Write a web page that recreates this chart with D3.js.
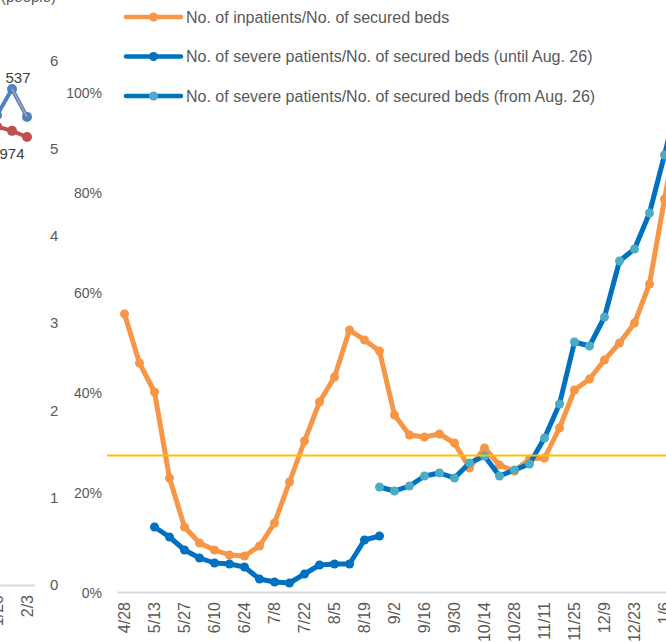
<!DOCTYPE html>
<html>
<head>
<meta charset="utf-8">
<script src="https://cdn.jsdelivr.net/npm/d3@7"></script>
<style>
  body { margin: 0; background: #fff; }
  svg { display: block; font-family: "Liberation Sans", Arial, sans-serif; }
  .axis-label text { fill: #595959; }
</style>
</head>
<body>
<div id="chart"></div>
<script>
// ---- data: right chart (weekly reports) ----
const dates = ["4/28","5/6","5/13","5/20","5/27","6/3","6/10","6/17","6/24","7/1",
    "7/8","7/15","7/22","7/29","8/5","8/12","8/19","8/26","9/2","9/9",
    "9/16","9/23","9/30","10/7","10/14","10/21","10/28","11/4","11/11","11/18",
    "11/25","12/2","12/9","12/16","12/23","12/30","1/6","1/13"];

// No. of inpatients / No. of secured beds (%)
const inpatientPct = [55.8, 46, 40.2, 23, 13.2, 10, 8.6, 7.6, 7.4, 9.4,
    14, 22.2, 30.4, 38.2, 43.2, 52.6, 50.6, 48.4, 35.6, 31.6,
    31.2, 31.8, 30, 25, 29, 25.6, 24.4, 26.8, 27, 33,
    40.6, 42.8, 46.6, 50, 54, 61.8, 78.8, 95];

// severe patients (until Aug. 26), starts at 5/13
const severeUntilStart = 2;
const severeUntilPct = [13.2, 11.2, 8.6, 7, 6, 5.8, 5.2, 2.8, 2.2, 2,
    3.8, 5.6, 5.8, 5.8, 10.6, 11.4];

// severe patients (from Aug. 26), starts at 8/26
const severeFromStart = 17;
const severeFromPct = [21.2, 20.4, 21.4, 23.4, 24, 23, 26, 27.4, 23.4, 24.6,
    25.8, 31, 37.8, 50.2, 49.4, 55.2, 66.4, 68.8, 76, 87.6, 100];

const thresholdPct = 27.5;
const pctTicks = [0, 20, 40, 60, 80, 100];
const countTicks = [0, 1, 2, 3, 4, 5, 6];

// ---- data: left chart (cropped at the edge) ----
const leftDates = ["1/20", "1/27", "2/3"];
const leftBlue = [5.38, 5.68, 5.36];
const leftRed = [5.25, 5.20, 5.13];
const leftGray = [null, 5.68, 5.36];
const leftBlueLabels = [null, "537", null];
const leftRedLabels = [null, "974", null];

const legendItems = [
    {text: "No. of inpatients/No. of secured beds", line: "#F79646", marker: "#F79646"},
    {text: "No. of severe patients/No. of secured beds (until Aug. 26)", line: "#0070C0", marker: "#0070C0"},
    {text: "No. of severe patients/No. of secured beds (from Aug. 26)", line: "#0070C0", marker: "#4BACC6"}
];

// ---- svg ----
const width = 666, height = 642;
const svg = d3.select("#chart").append("svg")
    .attr("width", width)
    .attr("height", height);

// scales
const x = d3.scaleBand().domain(dates).range([117, 117 + 15 * dates.length]);
const xc = d => x(d) + x.bandwidth() / 2;
const yPct = d3.scaleLinear().domain([0, 100]).range([593, 93]);
const yCount = d3.scaleLinear().domain([0, 6]).range([585, 61]);
const xLeft = d3.scaleBand().domain(leftDates).range([-10.5, 34.5]);
const xlc = d => xLeft(d) + xLeft.bandwidth() / 2;

// ---- left chart bits ----
svg.append("text")
    .attr("x", 56)
    .attr("y", 2)
    .attr("text-anchor", "end")
    .style("font-size", "15px")
    .style("fill", "#595959")
    .text("(people)");

// left chart x axis
const leftAxis = svg.append("g")
    .attr("class", "axis-label")
    .attr("transform", "translate(0," + 585 + ")")
    .call(d3.axisBottom(xLeft).tickValues(leftDates.filter((d, i) => i % 2 === 0)).tickSize(0).tickSizeOuter(0));
leftAxis.select(".domain").attr("stroke", "#D9D9D9").attr("stroke-width", 2);
leftAxis.selectAll("text")
    .attr("transform", "rotate(-90)")
    .attr("text-anchor", "end")
    .attr("x", -10)
    .attr("y", 0)
    .attr("dy", "0.35em")
    .style("font-size", "16px");

// left chart lines
const leftLine = yScale => d3.line()
    .defined(d => d.v !== null)
    .x(d => xlc(d.date))
    .y(d => yScale(d.v));

function drawLeftSeries(vals, color, widthPx, withDots){
    const data = leftDates.map((d, i) => ({date: d, v: vals[i]}));
    svg.append("path")
        .datum(data)
        .attr("fill", "none")
        .attr("stroke", color)
        .attr("stroke-width", widthPx)
        .attr("stroke-linejoin", "round")
        .attr("d", leftLine(yCount));
    if(withDots){
        svg.selectAll(null).data(data.filter(d => d.v !== null)).enter().append("circle")
            .attr("cx", d => xlc(d.date))
            .attr("cy", d => yCount(d.v))
            .attr("r", 5)
            .style("fill", color);
    }
}
drawLeftSeries(leftRed, "#C0504D", 4, true);
drawLeftSeries(leftBlue, "#4F81BD", 4, true);
drawLeftSeries(leftGray, "#A6A6A6", 1.5, false);

// data labels on left chart
svg.selectAll(null).data(leftDates.map((d, i) => ({date: d, v: leftBlue[i], t: leftBlueLabels[i]})).filter(d => d.t))
    .enter().append("text")
    .attr("x", d => xlc(d.date) + 6)
    .attr("y", d => yCount(d.v) - 11)
    .attr("dy", "0.35em")
    .attr("text-anchor", "middle")
    .style("font-size", "15px")
    .style("fill", "#404040")
    .text(d => d.t);
svg.selectAll(null).data(leftDates.map((d, i) => ({date: d, v: leftRed[i], t: leftRedLabels[i]})).filter(d => d.t))
    .enter().append("text")
    .attr("x", d => xlc(d.date))
    .attr("y", d => yCount(d.v) + 23)
    .attr("dy", "0.35em")
    .attr("text-anchor", "middle")
    .style("font-size", "15px")
    .style("fill", "#404040")
    .text(d => d.t);

// 0..6 axis (belongs to left chart)
const countAxis = svg.append("g")
    .attr("class", "axis-label")
    .attr("transform", "translate(50,0)")
    .call(d3.axisRight(yCount).tickValues(countTicks).tickFormat(d3.format("d")).tickSize(0).tickPadding(0));
countAxis.select(".domain").remove();
countAxis.selectAll("text").style("font-size", "15px");

// ---- right chart ----
// percentage axis
const pctAxis = svg.append("g")
    .attr("class", "axis-label")
    .attr("transform", "translate(108,0)")
    .call(d3.axisLeft(yPct).tickValues(pctTicks).tickFormat(d => d + "%").tickSize(0).tickPadding(6));
pctAxis.select(".domain").remove();
pctAxis.selectAll("text").style("font-size", "14px");

// date axis
const dateAxis = svg.append("g")
    .attr("class", "axis-label")
    .attr("transform", "translate(0," + 592 + ")")
    .call(d3.axisBottom(x).tickValues(dates.filter((d, i) => i % 2 === 0)).tickSize(0).tickSizeOuter(0));
dateAxis.select(".domain").attr("stroke", "#D9D9D9").attr("stroke-width", 2);
dateAxis.selectAll("text")
    .attr("transform", "rotate(-90)")
    .attr("text-anchor", "end")
    .attr("x", -10)
    .attr("y", 0)
    .attr("dy", "0.35em")
    .style("font-size", "16px");

const pctLine = d3.line()
    .x(d => xc(d.date))
    .y(d => yPct(d.v))
    .curve(d3.curveLinear);

function drawSeries(data, lineColor, dotColor){
    svg.append("path")
        .datum(data)
        .attr("fill", "none")
        .attr("stroke", lineColor)
        .attr("stroke-width", 5)
        .attr("stroke-linejoin", "round")
        .attr("stroke-linecap", "round")
        .attr("d", pctLine);
    svg.selectAll(null).data(data).enter().append("circle")
        .attr("cx", d => xc(d.date))
        .attr("cy", d => yPct(d.v))
        .attr("r", 4.5)
        .style("fill", dotColor);
}

drawSeries(inpatientPct.map((v, i) => ({date: dates[i], v: v})), "#F79646", "#F79646");
drawSeries(severeUntilPct.map((v, i) => ({date: dates[i + severeUntilStart], v: v})), "#0070C0", "#0070C0");
drawSeries(severeFromPct.map((v, i) => ({date: dates[i + severeFromStart], v: v})), "#0070C0", "#4BACC6");

// threshold line
svg.append("line")
    .attr("x1", 107)
    .attr("x2", width)
    .attr("y1", yPct(thresholdPct))
    .attr("y2", yPct(thresholdPct))
    .attr("stroke", "#FFC000")
    .attr("stroke-width", 2);

// legend
const legend = svg.append("g").attr("transform", "translate(126,17)");
legendItems.forEach((item, i) => {
    const g = legend.append("g").attr("transform", "translate(0," + (i * 39.5) + ")");
    g.append("line")
        .attr("x1", 0).attr("x2", 55)
        .attr("stroke", item.line)
        .attr("stroke-width", 4.5)
        .attr("stroke-linecap", "round");
    g.append("circle")
        .attr("cx", 27.5)
        .attr("r", 4.5)
        .style("fill", item.marker);
    g.append("text")
        .attr("x", 60)
        .attr("dy", "0.35em")
        .style("font-size", "16px")
        .style("fill", "#595959")
        .text(item.text);
});
</script>
</body>
</html>
